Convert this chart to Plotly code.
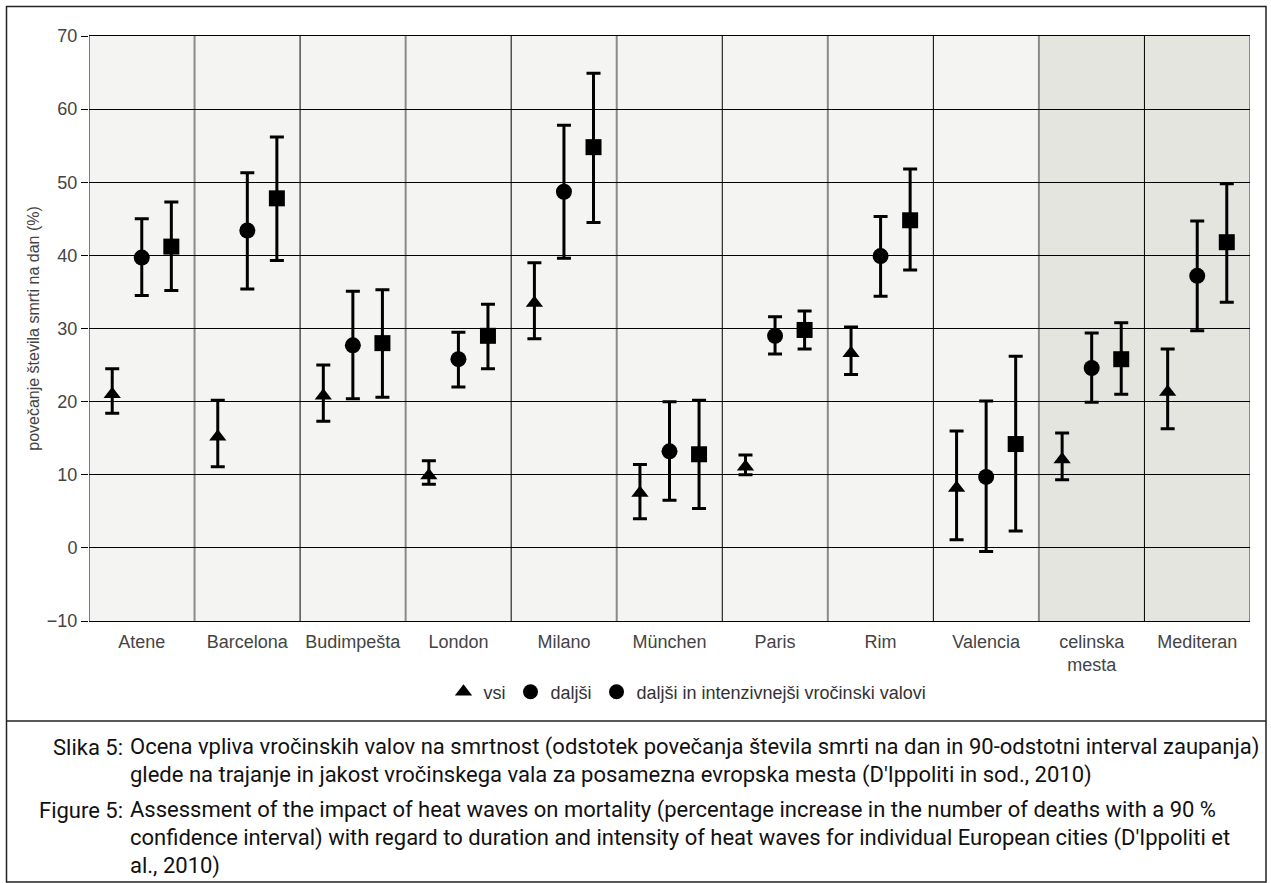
import plotly.graph_objects as go

# ---------------- data ----------------
categories = ["Atene", "Barcelona", "Budimpešta", "London", "Milano", "München",
              "Paris", "Rim", "Valencia", "celinska<br>mesta", "Mediteran"]

vsi = [21.0, 15.2, 20.8, 9.9, 33.5, 7.5, 11.1, 26.6, 8.2, 12.1, 21.3]
vsi_lo = [18.4, 11.1, 17.3, 8.7, 28.6, 4.0, 10.0, 23.7, 1.1, 9.3, 16.3]
vsi_hi = [24.5, 20.2, 25.0, 11.9, 39.0, 11.4, 12.7, 30.2, 16.0, 15.7, 27.2]

daljsi = [39.7, 43.4, 27.7, 25.8, 48.7, 13.2, 29.0, 39.9, 9.7, 24.6, 37.2]
daljsi_lo = [34.5, 35.4, 20.4, 22.0, 39.6, 6.5, 26.5, 34.4, -0.5, 19.9, 29.7]
daljsi_hi = [45.0, 51.3, 35.1, 29.5, 57.8, 20.0, 31.6, 45.3, 20.1, 29.4, 44.7]

intenz = [41.2, 47.8, 28.0, 29.0, 54.8, 12.8, 29.8, 44.8, 14.2, 25.8, 41.8]
intenz_lo = [35.2, 39.3, 20.6, 24.5, 44.5, 5.4, 27.2, 38.0, 2.3, 21.0, 33.6]
intenz_hi = [47.3, 56.2, 35.3, 33.3, 64.9, 20.2, 32.4, 51.8, 26.2, 30.8, 49.8]

legend_names = ["vsi", "daljši", "daljši in intenzivnejši vročinski valovi"]
y_ticks = [-10, 0, 10, 20, 30, 40, 50, 60, 70]
y_title = "povečanje števila smrti na dan (%)"

caption_si_label = "Slika 5:"
caption_si = ["Ocena vpliva vročinskih valov na smrtnost (odstotek povečanja števila smrti na dan in 90-odstotni interval zaupanja)",
              "glede na trajanje in jakost vročinskega vala za posamezna evropska mesta (D'Ippoliti in sod., 2010)"]
caption_en_label = "Figure 5:"
caption_en = ["Assessment of the impact of heat waves on mortality (percentage increase in the number of deaths with a 90 %",
              "confidence interval) with regard to duration and intensity of heat waves for individual European cities (D'Ippoliti et",
              "al., 2010)"]

# ---------------- layout geometry (pixels) ----------------
W, H = 1271, 883
L, R, T, B = 89, 21, 36, 262
PW, PH = W - L - R, H - T - B


def px(x):
    return (x - L) / PW


def py(y):
    return (H - B - y) / PH


TICK_FONT = "Liberation Sans Narrow, Arial Narrow, sans-serif"
CAP_FONT = "Roboto, Liberation Sans, sans-serif"

idx = list(range(len(categories)))
off = 0.28

fig = go.Figure()


def add_series(xs, vals, lo, hi, symbol, size):
    fig.add_trace(go.Scatter(
        x=xs, y=vals, mode="markers", showlegend=False,
        marker=dict(symbol=symbol, size=size, color="black"),
        error_y=dict(type="data", symmetric=False,
                     array=[h - v for h, v in zip(hi, vals)],
                     arrayminus=[v - l for v, l in zip(vals, lo)],
                     color="black", thickness=3, width=7),
        hoverinfo="skip"))


add_series([i - off for i in idx], vsi, vsi_lo, vsi_hi, "triangle-up", 15)
add_series(idx, daljsi, daljsi_lo, daljsi_hi, "circle", 16)
add_series([i + off for i in idx], intenz, intenz_lo, intenz_hi, "square", 16)

# legend entries (the original shows a circle for the third entry too)
for name, sym in zip(legend_names, ["triangle-up", "circle", "circle"]):
    fig.add_trace(go.Scatter(x=[None], y=[None], mode="markers", name=name,
                             marker=dict(symbol=sym, size=15, color="black")))

shapes = []
# shaded background for the last two columns
shapes.append(dict(type="rect", xref="x", yref="paper", x0=8.5, x1=10.5, y0=0, y1=1,
                   fillcolor="#e5e5e0", line=dict(width=0), layer="below"))
# column dividers
for i in range(len(categories) + 1):
    col = "black" if i % 2 == 0 else "#8a8a8a"
    wid = 1 if i % 2 == 0 else 2
    shapes.append(dict(type="line", xref="x", yref="paper", x0=i - 0.5, x1=i - 0.5,
                       y0=0, y1=1, line=dict(color=col, width=wid), layer="below"))
# outer frame and separator
shapes.append(dict(type="rect", xref="paper", yref="paper",
                   x0=px(6.5), x1=px(1266), y0=py(882), y1=py(6.5),
                   line=dict(color="#222", width=1.5), fillcolor="rgba(0,0,0,0)", layer="above"))
shapes.append(dict(type="line", xref="paper", yref="paper",
                   x0=px(6.5), x1=px(1266), y0=py(721), y1=py(721),
                   line=dict(color="#222", width=1.5), layer="above"))

annotations = []
cap_font = dict(family=CAP_FONT, size=22, color="#111")
annotations.append(dict(xref="paper", yref="paper", x=px(125), y=py(747), text=caption_si_label,
                        showarrow=False, xanchor="right", yanchor="middle", font=cap_font))
for k, line in enumerate(caption_si):
    annotations.append(dict(xref="paper", yref="paper", x=px(128), y=py(747 + 28 * k), text=line,
                            showarrow=False, xanchor="left", yanchor="middle", font=cap_font))
annotations.append(dict(xref="paper", yref="paper", x=px(125), y=py(810), text=caption_en_label,
                        showarrow=False, xanchor="right", yanchor="middle", font=cap_font))
for k, line in enumerate(caption_en):
    annotations.append(dict(xref="paper", yref="paper", x=px(128), y=py(810 + 28 * k), text=line,
                            showarrow=False, xanchor="left", yanchor="middle", font=cap_font))

fig.update_layout(
    width=W, height=H,
    margin=dict(l=L, r=R, t=T, b=B, pad=0),
    paper_bgcolor="white",
    plot_bgcolor="#f4f4f2",
    shapes=shapes,
    annotations=annotations,
    showlegend=True,
    legend=dict(orientation="h", x=0.5 + 18 / PW, xanchor="center", y=py(692), yanchor="middle",
                font=dict(family=TICK_FONT, size=18, color="#333"),
                bgcolor="rgba(0,0,0,0)", itemwidth=30),
    xaxis=dict(range=[-0.5, 10.5], tickmode="array", tickvals=idx, ticktext=categories,
               showgrid=False, zeroline=False, showline=True, mirror=True,
               linecolor="black", linewidth=1,
               ticks="outside", ticklen=4, tickcolor="rgba(0,0,0,0)",
               tickfont=dict(family=TICK_FONT, size=18, color="#444")),
    yaxis=dict(range=[-10, 70], tickmode="array", tickvals=y_ticks,
               showgrid=True, gridcolor="black", gridwidth=1, zeroline=False,
               showline=False, ticks="outside", ticklen=7, tickcolor="black", tickwidth=1,
               tickfont=dict(family=TICK_FONT, size=18, color="#444"),
               title=dict(text=y_title, standoff=3,
                          font=dict(family=TICK_FONT, size=16, color="#444"))),
)

fig.write_html("out.html")
